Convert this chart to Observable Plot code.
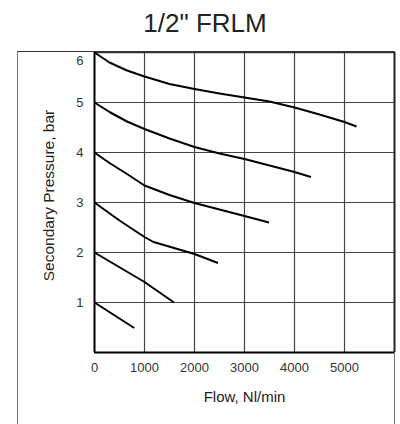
<!DOCTYPE html>
<html>
<head>
<meta charset="utf-8">
<script src="https://cdn.jsdelivr.net/npm/d3@7"></script>
<script src="https://cdn.jsdelivr.net/npm/@observablehq/plot@0.6"></script>
<style>
  html, body { margin: 0; padding: 0; background: #fff; }
  #wrap { position: relative; width: 400px; height: 424px; overflow: hidden; font-family: "Liberation Sans", Arial, sans-serif; }
  #title { position: absolute; top: 8px; left: 5px; width: 400px; text-align: center; font-size: 26px; color: #222; }
  #frame { position: absolute; left: 17px; top: 50.5px; width: 376px; height: 400px; border-left: 1.5px solid #777; border-right: 1.5px solid #777; border-top: 1.5px solid #333; }
  #chart { position: absolute; top: 48px; left: 0; }
</style>
</head>
<body>
<div id="wrap">
  <div id="title"></div>
  <div id="frame"></div>
  <div id="chart"></div>
</div>
<script>
const titleText = '1/2" FRLM';
const xLabel = "Flow, Nl/min";
const yLabel = "Secondary Pressure, bar";
const xTicks = [0, 1000, 2000, 3000, 4000, 5000];
const yTicks = [1, 2, 3, 4, 5, 6];
const xGrid = [1000, 2000, 3000, 4000, 5000];
const yGrid = [1, 2, 3, 4, 5];

// Regulated pressure curves: [flow, pressure]
const curve6 = [[0, 6], [300, 5.8], [650, 5.64], [1000, 5.52], [1500, 5.37], [2000, 5.27], [2500, 5.18], [3000, 5.1], [3500, 5.02], [4000, 4.9], [4500, 4.76], [5000, 4.61], [5240, 4.52]];
const curve5 = [[0, 5], [300, 4.81], [650, 4.62], [1000, 4.47], [1500, 4.28], [2000, 4.11], [2500, 3.98], [3000, 3.87], [3500, 3.74], [4000, 3.61], [4330, 3.51]];
const curve4 = [[0, 4], [300, 3.79], [650, 3.57], [1000, 3.34], [1500, 3.15], [2000, 2.99], [2500, 2.86], [3000, 2.73], [3490, 2.6]];
const curve3 = [[0, 3], [500, 2.64], [1000, 2.31], [1180, 2.21], [2000, 1.97], [2470, 1.79]];
const curve2 = [[0, 2], [1000, 1.41], [1590, 1.0]];
const curve1 = [[0, 1], [795, 0.49]];

const curves = [curve6, curve5, curve4, curve3, curve2, curve1];
const lineData = curves.flatMap((c, i) => c.map(([f, p]) => ({curve: i, flow: f, pressure: p})));

document.getElementById("title").textContent = titleText;

const chart = Plot.plot({
  width: 400,
  height: 376,
  marginTop: 4,
  marginBottom: 72,
  marginLeft: 94,
  marginRight: 6,
  style: { fontFamily: '"Liberation Sans", Arial, sans-serif', background: "transparent", overflow: "visible" },
  x: { domain: [0, 6000], axis: null },
  y: { domain: [0, 6], axis: null },
  marks: [
    Plot.ruleX(xGrid, { stroke: "#444", strokeWidth: 1.2 }),
    Plot.ruleY(yGrid, { stroke: "#444", strokeWidth: 1.2 }),
    Plot.ruleX([6000], { stroke: "#222", strokeWidth: 2 }),
    Plot.ruleY([6], { stroke: "#333", strokeWidth: 1.5 }),
    Plot.ruleX([0], { stroke: "#000", strokeWidth: 2 }),
    Plot.ruleY([0], { stroke: "#000", strokeWidth: 2 }),
    Plot.line(lineData, { x: "flow", y: "pressure", z: "curve", stroke: "#000", strokeWidth: 2, strokeLinejoin: "round", strokeLinecap: "butt" }),
    Plot.axisX(xTicks, { tickSize: 0, tickPadding: 10, fontSize: 13, fill: "#333", label: null, tickFormat: d => String(d) }),
    Plot.text(yTicks.filter(d => d < 6), { x: 0, y: d => d, text: d => String(d), textAnchor: "end", dx: -11, fontSize: 13, fill: "#333" }),
    Plot.text(yTicks.filter(d => d === 6), { x: 0, y: d => d, text: d => String(d), textAnchor: "end", dx: -11, dy: 8, fontSize: 13, fill: "#333" }),
    Plot.text([xLabel], { frameAnchor: "bottom", textAnchor: "middle", dy: 49, fontSize: 15, fill: "#222" }),
    Plot.text([yLabel], { frameAnchor: "left", textAnchor: "middle", rotate: -90, dx: -45, dy: -7, fontSize: 15.5, fill: "#222" })
  ]
});
document.getElementById("chart").appendChild(chart);
</script>
</body>
</html>
